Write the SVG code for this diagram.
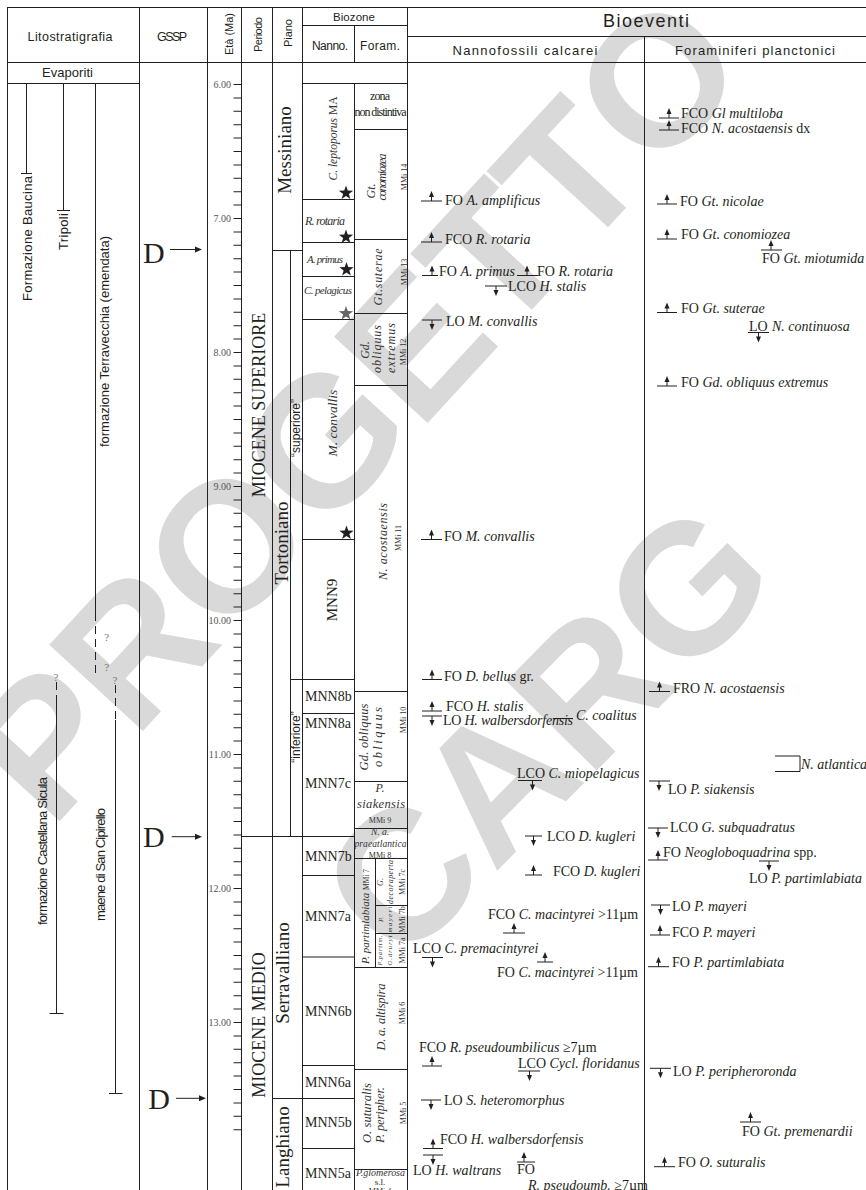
<svg xmlns="http://www.w3.org/2000/svg" width="866" height="1190" viewBox="0 0 866 1190">
<style>
.ln{stroke:#231f20;stroke-width:1;fill:none}
.dsh{stroke:#231f20;stroke-width:1;fill:none;stroke-dasharray:8 5}
.sa{font-family:"Liberation Sans","DejaVu Sans",sans-serif;fill:#231f20}
.se{font-family:"Liberation Serif","DejaVu Serif",serif;fill:#231f20}
.ev{font-family:"Liberation Serif","DejaVu Serif",serif;font-size:14px;fill:#231f20}
.it{font-style:italic}
.age{font-family:"Liberation Serif",serif;font-size:10px;fill:#555;text-anchor:end}
.zn{font-family:"Liberation Serif",serif;font-style:italic;fill:#333;text-anchor:middle}
.mm{font-family:"Liberation Serif",serif;font-size:8px;fill:#333;text-anchor:middle}
.mn{font-family:"Liberation Serif",serif;font-size:14px;fill:#231f20}
.wm{font-family:"Liberation Sans","DejaVu Sans",sans-serif;font-weight:bold;font-size:185px;fill:#d9d9d9}
.q{font-family:"Liberation Serif",serif;font-size:11px;fill:#777;text-anchor:middle}
.mid{text-anchor:middle}
</style>
<defs>
<g id="au"><line x1="0" y1="0" x2="0" y2="-4.5" stroke="#231f20"/><polygon points="0,-10 -2.5,-4 2.5,-4" fill="#231f20"/></g>
<g id="ad"><line x1="0" y1="0" x2="0" y2="4.5" stroke="#231f20"/><polygon points="0,10 -2.5,4 2.5,4" fill="#231f20"/></g>
<polygon id="star" points="0,-7.5 1.76,-2.43 7.13,-2.32 2.85,0.93 4.41,6.07 0,3 -4.41,6.07 -2.85,0.93 -7.13,-2.32 -1.76,-2.43"/>
</defs>

<g id="watermark">
<text class="wm" transform="translate(51.2,830.2) rotate(-47.3)">P</text>
<text class="wm" transform="translate(134.6,739.9) rotate(-47.3)">R</text>
<text class="wm" transform="translate(224.8,642.3) rotate(-47.3)">O</text>
<text class="wm" transform="translate(322,537) rotate(-47.3)">G</text>
<text class="wm" transform="translate(419.2,431.9) rotate(-47.3)">E</text>
<text class="wm" transform="translate(502.5,341.6) rotate(-47.3)">T</text>
<text class="wm" transform="translate(578.8,259) rotate(-47.3)">T</text>
<text class="wm" transform="translate(655.2,176.4) rotate(-47.3)">O</text>
<text class="wm" transform="translate(400.1,969.1) rotate(-45.3)">C</text>
<text class="wm" transform="translate(494.1,874.1) rotate(-45.3)">A</text>
<text class="wm" transform="translate(588,779.2) rotate(-45.3)">R</text>
<text class="wm" transform="translate(682,684.3) rotate(-45.3)">G</text>
</g>

<g id="grid">
<path class="ln" d="M7,7.5H866 M302.5,25.5H407.5 M407.5,36.5H866 M7,62.5H866 M7,83.5H139.5 M302.5,83.5H407.5"/>
<path class="ln" d="M7.5,7.5V1190 M139.5,7.5V1190 M207.5,7.5V1190 M241.5,7.5V1190 M272.5,7.5V1190 M302.5,7.5V1190 M354.5,25.5V62.5 M354.5,83.5V1190 M407.5,7.5V1190 M644.5,36.5V1190"/>
<path class="ln" d="M272.5,250.5H302.5 M290.5,250.5V836.5 M241.5,836.5H354.5 M272.5,1098.5H354.5"/>
<path class="ln" d="M302.5,199.5H354.5 M302.5,242.5H354.5 M302.5,276.5H354.5 M302.5,319.5H354.5 M302.5,539.5H354.5 M290.5,679.5H354.5 M302.5,713.5H354.5 M302.5,875.5H354.5 M302.5,957H354.5 M302.5,1065.5H354.5 M302.5,1148.5H354.5"/>
<path class="ln" d="M354.5,129.5H407.5 M354.5,239.5H407.5 M354.5,313.5H407.5 M354.5,385.5H407.5 M354.5,691.5H407.5 M354.5,781.5H407.5 M354.5,828.5H407.5 M354.5,858.5H407.5 M354.5,967.5H407.5 M354.5,1069.5H407.5 M354.5,1169.5H407.5 M375.5,858.5V967.5 M375.5,905.5H407.5 M375.5,933.5H407.5"/>
<line x1="237.5" y1="84" x2="237.5" y2="1131" stroke="#231f20" stroke-width="8" stroke-dasharray="1 12.4"/>
</g>

<g id="header">
<text class="sa mid" x="70" y="40.5" font-size="12.5" textLength="85">Litostratigrafia</text>
<text class="sa mid" x="172" y="40.5" font-size="12.5" textLength="30">GSSP</text>
<text class="sa mid" transform="translate(233,34) rotate(-90)" font-size="11" textLength="42">Età (Ma)</text>
<text class="sa mid" transform="translate(262,34.5) rotate(-90)" font-size="11" textLength="35">Periodo</text>
<text class="sa mid" transform="translate(292,33) rotate(-90)" font-size="11" textLength="28">Piano</text>
<text class="sa mid" x="354" y="20.5" font-size="11.5" textLength="42">Biozone</text>
<text class="sa mid" x="330" y="50" font-size="12" textLength="36">Nanno.</text>
<text class="sa mid" x="380" y="50" font-size="12" textLength="40">Foram.</text>
<text class="sa mid" x="646" y="26.5" font-size="18" textLength="86">Bioeventi</text>
<text class="sa mid" x="525" y="55" font-size="13" textLength="145">Nannofossili calcarei</text>
<text class="sa mid" x="755" y="55" font-size="13" textLength="160">Foraminiferi planctonici</text>
</g>

<g id="litostratigrafia">
<text class="sa mid" x="67.5" y="77" font-size="13" textLength="51">Evaporiti</text>
<path class="ln" d="M26.5,83.5V173.5 M21,173.5H32"/>
<text class="sa" transform="translate(32,301) rotate(-90)" font-size="13" textLength="125">Formazione Baucina</text>
<path class="ln" d="M63.5,83.5V210.5 M57,210.5H70"/>
<text class="sa" transform="translate(67.5,250) rotate(-90)" font-size="13" textLength="37">Tripoli</text>
<path class="ln" d="M95.5,83.5V613"/>
<path class="dsh" d="M95.5,613V678"/>
<text class="sa" transform="translate(108.5,447) rotate(-90)" font-size="13" textLength="211">formazione Terravecchia (emendata)</text>
<path class="dsh" d="M56.5,682V702"/>
<path class="ln" d="M56.5,702V1013.5 M49.5,1013.5H63.5"/>
<text class="sa" transform="translate(47,925) rotate(-90)" font-size="13" textLength="148">formazione Castellana Sicula</text>
<path class="dsh" d="M115.5,685V720"/>
<path class="ln" d="M115.5,720V1093.5 M109,1093.5H122.5"/>
<text class="sa" transform="translate(104.5,921) rotate(-90)" font-size="13" textLength="113">maene di San Cipirello</text>
<text class="q" x="106.7" y="640.5">?</text>
<text class="q" x="106.7" y="670.5">?</text>
<text class="q" x="115" y="684">?</text>
<text class="q" x="56" y="680.5">?</text>
</g>

<g id="gssp">
<text class="se" x="143" y="263" font-size="30">D</text>
<path class="ln" d="M170,249.5H197"/><polygon points="202,249.5 195,246.5 195,252.5" fill="#231f20"/>
<text class="se" x="143" y="846.7" font-size="30">D</text>
<path class="ln" d="M171.7,836.7H197"/><polygon points="202,836.7 195,833.7 195,839.7" fill="#231f20"/>
<text class="se" x="148.3" y="1109" font-size="30">D</text>
<path class="ln" d="M176,1098.3H201"/><polygon points="206,1098.3 199,1095.3 199,1101.3" fill="#231f20"/>
</g>

<g id="eta">
<text class="age" x="231" y="88">6.00</text>
<text class="age" x="231" y="222">7.00</text>
<text class="age" x="231" y="356">8.00</text>
<text class="age" x="231" y="490">9.00</text>
<text class="age" x="231" y="624">10.00</text>
<text class="age" x="231" y="758">11.00</text>
<text class="age" x="231" y="892">12.00</text>
<text class="age" x="231" y="1026">13.00</text>
</g>

<g id="periodo">
<text class="se mid" transform="translate(265,405) rotate(-90)" font-size="18">MIOCENE SUPERIORE</text>
<text class="se mid" transform="translate(265,1025) rotate(-90)" font-size="18">MIOCENE MEDIO</text>
</g>

<g id="piano">
<text class="se mid" transform="translate(291,150) rotate(-90)" font-size="19">Messiniano</text>
<text class="se mid" transform="translate(288,543) rotate(-90)" font-size="19">Tortoniano</text>
<text class="se mid" transform="translate(289,973) rotate(-90)" font-size="19">Serravalliano</text>
<text class="se mid" transform="translate(289,1147) rotate(-90)" font-size="19">Langhiano</text>
<text class="sa mid" transform="translate(300,428) rotate(-90)" font-size="12">“superiore”</text>
<text class="sa mid" transform="translate(300,737) rotate(-90)" font-size="12">“inferiore”</text>
</g>

<g id="nanno-zones">
<text class="zn" transform="translate(337,138.5) rotate(-90)" font-size="11.5" fill="#231f20">C. leptoporus <tspan font-style="normal">MA</tspan></text>
<text class="zn" x="325" y="225" font-size="12" textLength="40">R. rotaria</text>
<text class="zn" x="325" y="263" font-size="11" textLength="36">A. primus</text>
<text class="zn" x="328" y="294" font-size="11" textLength="48">C. pelagicus</text>
<text class="zn" transform="translate(337,423) rotate(-90)" font-size="13.5">M. convallis</text>
<text class="se mid" transform="translate(337,600) rotate(-90)" font-size="15">MNN9</text>
<text class="mn" x="305" y="701">MNN8b</text>
<text class="mn" x="305" y="728">MNN8a</text>
<text class="mn" x="305" y="788">MNN7c</text>
<text class="mn" x="305" y="861">MNN7b</text>
<text class="mn" x="305" y="921">MNN7a</text>
<text class="mn" x="305" y="1016">MNN6b</text>
<text class="mn" x="305" y="1087">MNN6a</text>
<text class="mn" x="305" y="1127">MNN5b</text>
<text class="mn" x="305" y="1178">MNN5a</text>
<use href="#star" x="346" y="193" fill="#231f20"/>
<use href="#star" x="346" y="237" fill="#231f20"/>
<use href="#star" x="346.5" y="269.5" fill="#231f20"/>
<use href="#star" x="346" y="313.5" fill="#666"/>
<use href="#star" x="346.5" y="533" fill="#231f20"/>
</g>

<g id="foram-zones">
<text class="se mid" x="380" y="100" font-size="12" textLength="20">zona</text>
<text class="se mid" x="380.5" y="116" font-size="12" textLength="52">non distintiva</text>
<text class="zn" transform="translate(375,191) rotate(-90)" font-size="12">Gt.</text>
<text class="zn" transform="translate(386,177) rotate(-90)" font-size="12" textLength="47">conomiozea</text>
<text class="mm" transform="translate(406.5,177) rotate(-90)">MMi 14</text>
<text class="zn" transform="translate(382,277) rotate(-90)" font-size="12" textLength="57">Gt.suterae</text>
<text class="mm" transform="translate(406.5,272) rotate(-90)">MMi 13</text>
<text class="zn" transform="translate(369,350) rotate(-90)" font-size="12">Gd.</text>
<text class="zn" transform="translate(381,349) rotate(-90)" font-size="12" textLength="48">obliquus</text>
<text class="zn" transform="translate(395,348) rotate(-90)" font-size="12" textLength="50">extremus</text>
<text class="mm" transform="translate(406,352) rotate(-90)">MMi 12</text>
<text class="zn" transform="translate(387,541.5) rotate(-90)" font-size="12" textLength="77">N. acostaensis</text>
<text class="mm" transform="translate(401,538) rotate(-90)">MMi 11</text>
<text class="zn" transform="translate(368,737) rotate(-90)" font-size="12.5" textLength="67">Gd. obliquus</text>
<text class="zn" transform="translate(382,737) rotate(-90)" font-size="12.5" textLength="60">obliquus</text>
<text class="mm" transform="translate(406,720) rotate(-90)">MMi 10</text>
<text class="zn" x="380" y="792" font-size="12">P.</text>
<text class="zn" x="381" y="808" font-size="12.5" textLength="48">siakensis</text>
<text class="mm" x="380" y="823">MMi 9</text>
<text class="zn" x="380" y="835" font-size="9.5">N. a.</text>
<text class="zn" x="380.5" y="847" font-size="9.5" textLength="52">praeatlantica</text>
<text class="mm" x="380" y="857.5">MMi 8</text>
<text class="zn" transform="translate(369,964) rotate(-90)" font-size="11" style="text-anchor:start">P. partimlabiata <tspan font-style="normal" font-size="7.5">MMi 7</tspan></text>
<text class="zn" transform="translate(383,882) rotate(-90)" font-size="8">G.</text>
<text class="zn" transform="translate(393,882) rotate(-90)" font-size="8" textLength="44">decoraperta</text>
<text class="mm" transform="translate(405,882) rotate(-90)" font-size="7">MMi 7c</text>
<text class="zn" transform="translate(383,919.5) rotate(-90)" font-size="7">P.</text>
<text class="zn" transform="translate(392,919.5) rotate(-90)" font-size="7" textLength="26">mayeri</text>
<text class="mm" transform="translate(405,919.5) rotate(-90)" font-size="6.5">MMi 7b</text>
<text class="zn" transform="translate(382,950.5) rotate(-90)" font-size="6.5" textLength="30">P.partim.</text>
<text class="zn" transform="translate(392,950.5) rotate(-90)" font-size="6.5" textLength="30">G.druryi</text>
<text class="mm" transform="translate(405,950.5) rotate(-90)" font-size="6.5">MMi 7a</text>
<text class="zn" transform="translate(385,1017) rotate(-90)" font-size="12.5" textLength="67">D. a. altispira</text>
<text class="mm" transform="translate(405,1013) rotate(-90)">MMi 6</text>
<text class="zn" transform="translate(371,1113) rotate(-90)" font-size="12.5" textLength="60">O. suturalis</text>
<text class="zn" transform="translate(384,1115) rotate(-90)" font-size="12.5" textLength="56">P. peripher.</text>
<text class="mm" transform="translate(405.5,1113) rotate(-90)">MMi 5</text>
<text class="zn" x="380.5" y="1176" font-size="10" textLength="49">P.glomerosa</text>
<text class="se mid" x="380" y="1185" font-size="9">s.l.</text>
<text class="mm" x="380" y="1194">MMi 4</text>
</g>

<g id="nanno-events">
<path class="ln" d="M421,201H442"/><use href="#au" x="431.5" y="201"/>
<text class="ev" x="445" y="204.5">FO <tspan class="it">A. amplificus</tspan></text>
<path class="ln" d="M421,242H442"/><use href="#au" x="431.5" y="242"/>
<text class="ev" x="445" y="244">FCO <tspan class="it">R. rotaria</tspan></text>
<path class="ln" d="M422,275.5H438"/><use href="#au" x="432" y="275.5"/>
<text class="ev" x="439" y="275.5">FO <tspan class="it">A. primus</tspan></text>
<path class="ln" d="M517,275.5H538"/><use href="#au" x="527" y="275.5"/>
<text class="ev" x="537" y="275.5">FO <tspan class="it">R. rotaria</tspan></text>
<path class="ln" d="M485,286H507"/><use href="#ad" x="496" y="286"/>
<text class="ev" x="508" y="290.5">LCO <tspan class="it">H. stalis</tspan></text>
<path class="ln" d="M422,320H442"/><use href="#ad" x="432" y="320"/>
<text class="ev" x="446" y="326">LO <tspan class="it">M. convallis</tspan></text>
<path class="ln" d="M421,539.5H442"/><use href="#au" x="431.5" y="539.5"/>
<text class="ev" x="444" y="540.5">FO <tspan class="it">M. convallis</tspan></text>
<path class="ln" d="M422,679.5H442"/><use href="#au" x="432" y="679.5"/>
<text class="ev" x="444" y="680.5">FO <tspan class="it">D. bellus</tspan> gr.</text>
<path class="ln" d="M422,711H442 M422,716H442"/><use href="#au" x="432" y="711"/><use href="#ad" x="432" y="716"/>
<text class="ev" x="446" y="711">FCO <tspan class="it">H. stalis</tspan></text>
<text class="ev" x="443" y="724.5" textLength="130">LO <tspan class="it">H. walbersdorfensis</tspan></text>
<path class="ln" d="M553,718.5H573"/>
<text class="ev it" x="576" y="720">C. coalitus</text>
<text class="ev" x="517" y="778">LCO <tspan class="it">C. miopelagicus</tspan></text>
<path class="ln" d="M518,780.5H542"/><use href="#ad" x="532.5" y="780.5"/>
<path class="ln" d="M525,836H542"/><use href="#ad" x="533.5" y="836"/>
<text class="ev" x="547" y="840.5">LCO <tspan class="it">D. kugleri</tspan></text>
<path class="ln" d="M525,875H542"/><use href="#au" x="533.5" y="875"/>
<text class="ev" x="553" y="875.5">FCO <tspan class="it">D. kugleri</tspan></text>
<text class="ev" x="488" y="919">FCO <tspan class="it">C.  macintyrei</tspan> &gt;11µm</text>
<path class="ln" d="M503,933H525"/><use href="#au" x="514" y="933"/>
<text class="ev" x="413" y="952.5">LCO <tspan class="it">C. premacintyrei</tspan></text>
<path class="ln" d="M422,957.5H443"/><use href="#ad" x="432.5" y="957.5"/>
<path class="ln" d="M537,962H553"/><use href="#au" x="545" y="962"/>
<text class="ev" x="497" y="977">FO <tspan class="it">C.  macintyrei</tspan> &gt;11µm</text>
<text class="ev" x="419" y="1051.5">FCO <tspan class="it">R. pseudoumbilicus</tspan> ≥7µm</text>
<path class="ln" d="M422,1066H442"/><use href="#au" x="432" y="1066"/>
<text class="ev" x="518" y="1068">LCO <tspan class="it">Cycl. floridanus</tspan></text>
<path class="ln" d="M518,1071H540"/><use href="#ad" x="529.5" y="1071"/>
<path class="ln" d="M421,1100H441"/><use href="#ad" x="431" y="1100"/>
<text class="ev" x="444" y="1105">LO <tspan class="it">S.  heteromorphus</tspan></text>
<path class="ln" d="M423,1148.5H443 M423,1155H443"/><use href="#au" x="433" y="1148.5"/><use href="#ad" x="433" y="1155"/>
<text class="ev" x="440" y="1144">FCO <tspan class="it">H. walbersdorfensis</tspan></text>
<text class="ev" x="413" y="1175">LO <tspan class="it">H. waltrans</tspan></text>
<path class="ln" d="M517,1162H535"/><use href="#au" x="524" y="1162"/>
<text class="ev" x="517" y="1174">FO</text>
<text class="ev" x="528" y="1189.5"><tspan class="it">R. pseudoumb.</tspan> ≥7µm</text>
</g>

<g id="foram-events">
<path class="ln" d="M659,118H679"/><use href="#au" x="669" y="118"/>
<text class="ev" x="681" y="117.5">FCO <tspan class="it">Gl multiloba</tspan></text>
<path class="ln" d="M659,130H679"/><use href="#au" x="669" y="130"/>
<text class="ev" x="681" y="132.5">FCO <tspan class="it">N. acostaensis</tspan> dx</text>
<path class="ln" d="M657,204H677"/><use href="#au" x="667" y="204"/>
<text class="ev" x="680" y="206">FO <tspan class="it">Gt. nicolae</tspan></text>
<path class="ln" d="M657,239H677"/><use href="#au" x="667" y="239"/>
<text class="ev" x="681" y="238.5">FO <tspan class="it">Gt. conomiozea</tspan></text>
<path class="ln" d="M761,250H782"/><use href="#au" x="771" y="250"/>
<text class="ev" x="762" y="263">FO <tspan class="it">Gt. miotumida</tspan></text>
<path class="ln" d="M657,312.5H677"/><use href="#au" x="667" y="312.5"/>
<text class="ev" x="681" y="312.5">FO <tspan class="it">Gt. suterae</tspan></text>
<text class="ev" x="749" y="330.5">LO</text>
<path class="ln" d="M748,332.5H769"/><use href="#ad" x="758.5" y="332.5"/>
<text class="ev it" x="772" y="330.5">N. continuosa</text>
<path class="ln" d="M657,386H677"/><use href="#au" x="667" y="386"/>
<text class="ev" x="681" y="386.5">FO <tspan class="it">Gd. obliquus extremus</tspan></text>
<path class="ln" d="M649,691.5H670"/><use href="#au" x="659.5" y="691.5"/>
<text class="ev" x="673" y="693.3">FRO <tspan class="it">N. acostaensis</tspan></text>
<path class="ln" d="M775,756H800V771.5H775"/>
<text class="ev it" x="801" y="768.5">N. atlantica</text>
<path class="ln" d="M649,781H670"/><use href="#ad" x="659" y="781"/>
<text class="ev" x="668" y="794">LO <tspan class="it">P. siakensis</tspan></text>
<path class="ln" d="M648,828H668"/><use href="#ad" x="658" y="828"/>
<text class="ev" x="670" y="832.3">LCO <tspan class="it">G. subquadratus</tspan></text>
<path class="ln" d="M648,860H668"/><use href="#au" x="658" y="860"/>
<text class="ev" x="663" y="856.7">FO <tspan class="it">Neogloboquadrina</tspan> spp.</text>
<path class="ln" d="M759,861H779"/><use href="#ad" x="769" y="861"/>
<text class="ev" x="749" y="883">LO <tspan class="it">P. partimlabiata</tspan></text>
<path class="ln" d="M651,905H670"/><use href="#ad" x="660.5" y="905"/>
<text class="ev" x="672" y="911">LO <tspan class="it">P. mayeri</tspan></text>
<path class="ln" d="M650,935H670"/><use href="#au" x="660" y="935"/>
<text class="ev" x="672" y="936.5">FCO <tspan class="it">P. mayeri</tspan></text>
<path class="ln" d="M648,966.7H669"/><use href="#au" x="658.5" y="966.7"/>
<text class="ev" x="672" y="967.3">FO <tspan class="it">P. partimlabiata</tspan></text>
<path class="ln" d="M650,1068.3H671"/><use href="#ad" x="660.5" y="1068.3"/>
<text class="ev" x="673" y="1076">LO <tspan class="it">P. peripheroronda</tspan></text>
<path class="ln" d="M740,1122H761"/><use href="#au" x="750.5" y="1122"/>
<text class="ev" x="742" y="1136">FO <tspan class="it">Gt. premenardii</tspan></text>
<path class="ln" d="M654,1166.7H675"/><use href="#au" x="664.5" y="1166.7"/>
<text class="ev" x="678" y="1166.7">FO <tspan class="it">O. suturalis</tspan></text>
</g>
</svg>
